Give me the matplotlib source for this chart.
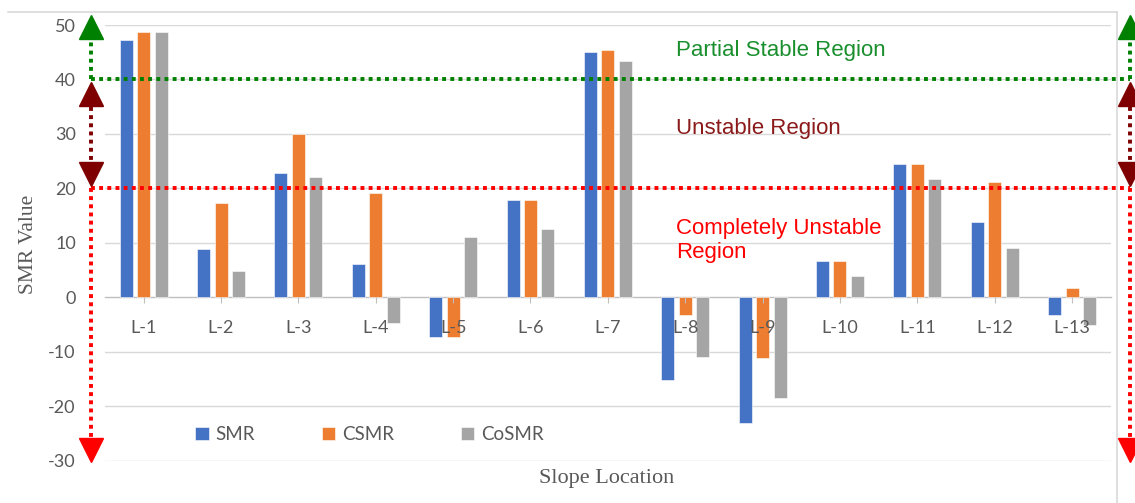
import matplotlib
matplotlib.use('Agg')
import numpy as np
import matplotlib.pyplot as plt
from matplotlib.lines import Line2D

locations = ['L-1', 'L-2', 'L-3', 'L-4', 'L-5', 'L-6', 'L-7',
             'L-8', 'L-9', 'L-10', 'L-11', 'L-12', 'L-13']
smr = [47.3, 8.9, 22.8, 6.1, -7.2, 17.8, 45.1, -15.2, -23.1, 6.7, 24.5, 13.9, -3.2]
csmr = [48.8, 17.3, 30.0, 19.1, -7.2, 17.8, 45.4, -3.2, -11.2, 6.7, 24.5, 21.1, 1.8]
cosmr = [48.8, 4.9, 22.0, -4.8, 11.0, 12.6, 43.3, -10.9, -18.5, 4.0, 21.7, 9.0, -5.0]
series_names = ['SMR', 'CSMR', 'CoSMR']
series_colors = ['#4472C4', '#ED7D31', '#A5A5A5']
y_ticks = [-30, -20, -10, 0, 10, 20, 30, 40, 50]

# stability class limits on the SMR scale
partial_stable_min = 40
unstable_min = 20

tick_grey = '#595959'
grid_grey = '#d9d9d9'

fig = plt.figure(figsize=(11.35, 5.03), dpi=100)
ax = fig.add_axes([105 / 1135, 1 - 460.7 / 503, 1005.7 / 1135, 435.7 / 503])

x = np.arange(len(locations))
bar_w = 0.168
offsets = [-0.226, 0.0, 0.226]
# bars sit under the axis so the category labels stay readable
for vals, name, col, off in zip([smr, csmr, cosmr], series_names, series_colors, offsets):
    ax.bar(x + off, vals, bar_w, color=col, label=name, zorder=1.2,
           edgecolor='white', linewidth=0.4)

ax.set_xlim(-0.5, len(locations) - 0.5)
ax.set_ylim(-30, 50)
for yv in y_ticks:
    if yv != 0:
        ax.axhline(yv, color=grid_grey, lw=1.0, zorder=0)

for s in ['top', 'right', 'left']:
    ax.spines[s].set_visible(False)
ax.spines['bottom'].set_position(('data', 0))
ax.spines['bottom'].set_color('#bfbfbf')
ax.spines['bottom'].set_linewidth(1.0)
ax.spines['bottom'].set_zorder(1)

ax.set_xticks(x)
ax.set_xticklabels(locations, fontfamily='Lato', fontsize=13, color=tick_grey)
ax.tick_params(axis='x', length=4, color='#bfbfbf', pad=12.5)
ax.set_yticks(y_ticks)
ax.set_yticklabels([str(v) for v in y_ticks], fontfamily='Lato', fontsize=13, color=tick_grey)
ax.tick_params(axis='y', length=0, pad=21)

ax.set_ylabel('SMR Value', fontfamily='Liberation Serif', fontsize=15.5, color=tick_grey)
ax.yaxis.set_label_coords(-0.0665, 0.497)
fig.text(607 / 1135, 1 - 478 / 503, 'Slope Location', fontfamily='Liberation Serif',
         fontsize=16, color=tick_grey, ha='center', va='center')

leg = ax.legend(loc='center', bbox_to_anchor=(0.263, 0.0597), ncol=3, frameon=False,
                prop={'family': 'Lato', 'size': 13.5}, handlelength=0.7, handleheight=0.7,
                handletextpad=0.35, columnspacing=3.6)
for t in leg.get_texts():
    t.set_color(tick_grey)

# class boundaries
dot = (0, (1, 1.1))
green = '#008000'
maroon = '#7f0000'
red = '#ff0000'
x_left, x_right = -0.68, 12.75
ax.plot([x_left, x_right], [partial_stable_min] * 2, color=green, lw=2.8,
        linestyle=dot, clip_on=False, zorder=4)
ax.plot([x_left, x_right], [unstable_min] * 2, color=red, lw=2.8,
        linestyle=dot, clip_on=False, zorder=4)

# range arrows on both sides
for xa in (x_left, x_right):
    ax.plot([xa, xa], [partial_stable_min, 47.7], color=green, lw=2.8, linestyle=dot,
            clip_on=False, zorder=4)
    ax.plot([xa], [49.7], marker='^', ms=17, color=green, clip_on=False, zorder=5)
    ax.plot([xa, xa], [35.0, 24.8], color=maroon, lw=2.8, linestyle=dot,
            clip_on=False, zorder=4)
    ax.plot([xa], [37.25], marker='^', ms=17, color=maroon, clip_on=False, zorder=5)
    ax.plot([xa], [22.65], marker='v', ms=17, color=maroon, clip_on=False, zorder=5)
    ax.plot([xa, xa], [unstable_min, -26.0], color=red, lw=2.8, linestyle=dot,
            clip_on=False, zorder=4)
    ax.plot([xa], [-28.1], marker='v', ms=17, color=red, clip_on=False, zorder=5)

region_font = {'family': 'Liberation Sans', 'size': 16}
ax.text(6.88, 45.3, 'Partial Stable Region', color='#1a8f2e', va='center', ha='left', **region_font)
ax.text(6.88, 31.0, 'Unstable Region', color='#8b1a1a', va='center', ha='left', **region_font)
ax.text(6.88, 10.5, 'Completely Unstable\nRegion', color=red, va='center', ha='left',
        linespacing=1.2, **region_font)

# chart area frame (top and right edges)
fig.add_artist(Line2D([8 / 1135, 1117 / 1135], [1 - 11.7 / 503] * 2, color=grid_grey, lw=1.2))
fig.add_artist(Line2D([1117 / 1135] * 2, [0, 1 - 11.7 / 503], color=grid_grey, lw=1.2))

fig.savefig('out.png', dpi=100)
plt.close('all')
